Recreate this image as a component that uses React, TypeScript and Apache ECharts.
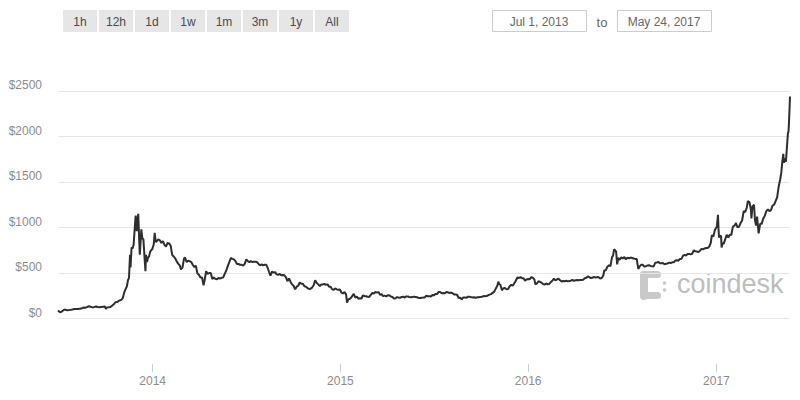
import React, { useEffect, useRef } from "react";
import * as echarts from "echarts";

const dates: string[] = [
  "2013-07-01","2013-07-05","2013-07-08","2013-07-12","2013-07-15","2013-07-19","2013-07-22","2013-07-26","2013-07-29",
  "2013-08-02","2013-08-05","2013-08-09","2013-08-12","2013-08-16","2013-08-19","2013-08-23","2013-08-26","2013-08-30",
  "2013-09-02","2013-09-06","2013-09-09","2013-09-13","2013-09-16","2013-09-20","2013-09-23","2013-09-27","2013-09-30",
  "2013-10-02","2013-10-04","2013-10-07","2013-10-11","2013-10-14","2013-10-18","2013-10-21","2013-10-25","2013-10-28",
  "2013-11-01","2013-11-04","2013-11-07","2013-11-10","2013-11-12","2013-11-14","2013-11-16","2013-11-18","2013-11-19",
  "2013-11-21","2013-11-23","2013-11-25","2013-11-27","2013-11-29","2013-12-01","2013-12-02","2013-12-04","2013-12-06",
  "2013-12-07","2013-12-08","2013-12-10","2013-12-12","2013-12-14","2013-12-16","2013-12-18","2013-12-19","2013-12-21",
  "2013-12-23","2013-12-25","2013-12-27","2013-12-29","2013-12-31",
  "2014-01-03","2014-01-05","2014-01-07","2014-01-09","2014-01-12","2014-01-15","2014-01-18","2014-01-21","2014-01-24",
  "2014-01-27","2014-01-30","2014-02-02","2014-02-05","2014-02-08","2014-02-11","2014-02-14","2014-02-17","2014-02-20",
  "2014-02-23","2014-02-25","2014-02-28","2014-03-03","2014-03-05","2014-03-08","2014-03-11","2014-03-14","2014-03-17",
  "2014-03-20","2014-03-23","2014-03-26","2014-03-29","2014-04-01","2014-04-04","2014-04-07","2014-04-10","2014-04-12",
  "2014-04-15","2014-04-18","2014-04-21","2014-04-24","2014-04-27","2014-04-30","2014-05-03","2014-05-06","2014-05-09",
  "2014-05-12","2014-05-15","2014-05-18","2014-05-21","2014-05-24","2014-05-27","2014-05-30","2014-06-02","2014-06-05",
  "2014-06-08","2014-06-11","2014-06-14","2014-06-17","2014-06-20","2014-06-23","2014-06-26","2014-06-29","2014-07-02",
  "2014-07-05","2014-07-08","2014-07-11","2014-07-14","2014-07-17","2014-07-20","2014-07-23","2014-07-26","2014-07-29",
  "2014-08-01","2014-08-04","2014-08-07","2014-08-10","2014-08-13","2014-08-16","2014-08-18","2014-08-21","2014-08-24",
  "2014-08-27","2014-08-30","2014-09-02","2014-09-05","2014-09-08","2014-09-11","2014-09-14","2014-09-17","2014-09-20",
  "2014-09-23","2014-09-26","2014-09-29","2014-10-02","2014-10-05","2014-10-08","2014-10-11","2014-10-14","2014-10-17",
  "2014-10-20","2014-10-23","2014-10-26","2014-10-29","2014-11-01","2014-11-04","2014-11-07","2014-11-10","2014-11-13",
  "2014-11-16","2014-11-19","2014-11-22","2014-11-25","2014-11-28","2014-12-01","2014-12-04","2014-12-07","2014-12-10",
  "2014-12-13","2014-12-16","2014-12-19","2014-12-22","2014-12-25","2014-12-28","2014-12-31",
  "2015-01-03","2015-01-06","2015-01-09","2015-01-12","2015-01-14","2015-01-16","2015-01-19","2015-01-22","2015-01-25",
  "2015-01-27","2015-01-30","2015-02-02","2015-02-05","2015-02-08","2015-02-11","2015-02-14","2015-02-17","2015-02-20",
  "2015-02-23","2015-02-26","2015-03-01","2015-03-04","2015-03-07","2015-03-10","2015-03-13","2015-03-16","2015-03-19",
  "2015-03-22","2015-03-25","2015-03-28","2015-03-31","2015-04-03","2015-04-06","2015-04-09","2015-04-12","2015-04-15",
  "2015-04-18","2015-04-21","2015-04-24","2015-04-27","2015-04-30","2015-05-03","2015-05-06","2015-05-09","2015-05-12",
  "2015-05-15","2015-05-18","2015-05-21","2015-05-24","2015-05-27","2015-05-30","2015-06-02","2015-06-05","2015-06-08",
  "2015-06-11","2015-06-14","2015-06-17","2015-06-20","2015-06-23","2015-06-26","2015-06-29","2015-07-02","2015-07-05",
  "2015-07-08","2015-07-11","2015-07-14","2015-07-17","2015-07-20","2015-07-23","2015-07-26","2015-07-29","2015-08-01",
  "2015-08-04","2015-08-07","2015-08-10","2015-08-13","2015-08-16","2015-08-19","2015-08-22","2015-08-25","2015-08-28",
  "2015-08-31","2015-09-03","2015-09-06","2015-09-09","2015-09-12","2015-09-15","2015-09-18","2015-09-21","2015-09-24",
  "2015-09-27","2015-09-30","2015-10-03","2015-10-06","2015-10-09","2015-10-12","2015-10-15","2015-10-18","2015-10-21",
  "2015-10-24","2015-10-27","2015-10-30","2015-11-02","2015-11-04","2015-11-06","2015-11-08","2015-11-11","2015-11-14",
  "2015-11-17","2015-11-20","2015-11-23","2015-11-26","2015-11-29","2015-12-02","2015-12-05","2015-12-08","2015-12-11",
  "2015-12-14","2015-12-17","2015-12-20","2015-12-23","2015-12-26","2015-12-29",
  "2016-01-01","2016-01-04","2016-01-07","2016-01-10","2016-01-13","2016-01-15","2016-01-18","2016-01-21","2016-01-24",
  "2016-01-27","2016-01-30","2016-02-02","2016-02-05","2016-02-08","2016-02-11","2016-02-14","2016-02-17","2016-02-20",
  "2016-02-23","2016-02-26","2016-02-29","2016-03-03","2016-03-06","2016-03-09","2016-03-12","2016-03-15","2016-03-18",
  "2016-03-21","2016-03-24","2016-03-27","2016-03-30","2016-04-02","2016-04-05","2016-04-08","2016-04-11","2016-04-14",
  "2016-04-17","2016-04-20","2016-04-23","2016-04-26","2016-04-29","2016-05-02","2016-05-05","2016-05-08","2016-05-11",
  "2016-05-14","2016-05-17","2016-05-20","2016-05-23","2016-05-26","2016-05-28","2016-05-31","2016-06-03","2016-06-06",
  "2016-06-09","2016-06-12","2016-06-14","2016-06-16","2016-06-18","2016-06-20","2016-06-22","2016-06-24","2016-06-27",
  "2016-06-30","2016-07-03","2016-07-06","2016-07-09","2016-07-12","2016-07-15","2016-07-18","2016-07-21","2016-07-24",
  "2016-07-27","2016-07-30","2016-08-02","2016-08-05","2016-08-08","2016-08-11","2016-08-14","2016-08-17","2016-08-20",
  "2016-08-23","2016-08-26","2016-08-29","2016-09-01","2016-09-04","2016-09-07","2016-09-10","2016-09-13","2016-09-16",
  "2016-09-19","2016-09-22","2016-09-25","2016-09-28","2016-10-01","2016-10-04","2016-10-07","2016-10-10","2016-10-13",
  "2016-10-16","2016-10-19","2016-10-22","2016-10-25","2016-10-28","2016-10-31","2016-11-03","2016-11-06","2016-11-09",
  "2016-11-12","2016-11-15","2016-11-18","2016-11-21","2016-11-24","2016-11-27","2016-11-30","2016-12-03","2016-12-06",
  "2016-12-09","2016-12-12","2016-12-15","2016-12-18","2016-12-21","2016-12-23","2016-12-26","2016-12-29",
  "2017-01-01","2017-01-02","2017-01-04","2017-01-05","2017-01-06","2017-01-08","2017-01-10","2017-01-11","2017-01-13",
  "2017-01-15","2017-01-18","2017-01-21","2017-01-24","2017-01-27","2017-01-30","2017-02-02","2017-02-05","2017-02-08",
  "2017-02-11","2017-02-14","2017-02-17","2017-02-20","2017-02-23","2017-02-26","2017-03-01","2017-03-03","2017-03-06",
  "2017-03-09","2017-03-10","2017-03-12","2017-03-15","2017-03-17","2017-03-19","2017-03-21","2017-03-24","2017-03-27",
  "2017-03-30","2017-04-02","2017-04-05","2017-04-08","2017-04-11","2017-04-14","2017-04-17","2017-04-20","2017-04-23",
  "2017-04-26","2017-04-29","2017-05-02","2017-05-05","2017-05-07","2017-05-09","2017-05-11","2017-05-12","2017-05-14",
  "2017-05-16","2017-05-18","2017-05-20","2017-05-21","2017-05-22","2017-05-23","2017-05-24",
];

const prices: number[] = [
  88,68,76,93,98,90,92,95,98,
  104,105,104,107,110,120,118,125,135,
  130,122,125,132,126,123,126,130,133,
  105,122,123,126,141,160,180,185,196,
  205,225,290,330,355,420,445,700,560,
  780,770,810,980,1130,960,1050,1150,840,
  700,790,980,880,870,690,520,700,620,
  670,680,730,750,760,
  810,940,840,850,870,860,830,850,810,
  790,830,825,800,700,680,660,625,600,
  580,540,560,660,670,620,635,630,620,
  590,565,580,495,480,450,450,365,420,
  520,490,500,500,435,450,435,430,445,
  440,447,450,490,525,575,620,665,655,
  650,630,600,600,590,590,580,600,650,
  630,620,630,620,625,625,618,600,585,
  595,585,590,590,550,500,470,515,505,
  510,485,480,490,475,478,475,455,410,
  440,405,375,360,320,350,360,395,382,
  382,355,350,335,325,328,340,365,420,
  390,375,355,375,375,380,370,375,350,
  350,320,315,330,320,315,318,
  285,275,290,265,175,210,215,230,255,
  270,230,240,218,222,220,255,245,245,
  238,237,260,280,275,292,285,290,260,
  268,246,252,244,255,255,244,236,220,
  223,235,231,228,236,240,230,243,242,
  237,233,235,240,237,233,226,225,229,
  230,232,250,245,244,243,257,255,270,
  268,292,290,278,280,277,290,288,280,
  285,278,265,265,258,226,228,210,232,
  230,227,240,238,235,230,233,227,234,
  233,236,239,246,244,246,255,262,268,
  282,295,328,360,405,375,372,310,333,
  335,322,324,355,370,360,388,415,450,
  445,455,442,442,415,430,
  433,432,455,448,430,375,385,410,402,
  393,378,372,385,375,380,400,415,438,
  418,430,437,420,406,412,410,415,408,
  412,415,425,413,420,422,420,422,424,
  426,442,447,462,455,444,447,457,450,
  455,453,440,444,472,527,531,570,585,
  575,675,690,760,750,735,595,665,646,
  672,660,675,650,670,660,670,665,660,
  655,655,545,575,590,590,570,575,582,
  585,578,575,572,612,614,623,608,608,
  610,597,602,605,614,610,617,617,637,
  640,635,655,655,688,700,690,710,710,
  705,712,750,738,736,730,745,765,760,
  770,775,775,790,830,915,900,975,
  1000,1020,1140,990,890,910,905,780,830,
  820,870,920,890,920,920,1010,1020,1050,
  1000,1010,1050,1080,1180,1170,1220,1290,1280,
  1200,1100,1230,1250,1080,1020,1120,935,1040,
  1040,1100,1130,1180,1200,1180,1190,1240,1250,
  1290,1330,1450,1530,1600,1720,1810,1710,1760,
  1720,1880,2040,2050,2150,2290,2440,
];

const yearLabels: string[] = ["2014", "2015", "2016", "2017"];
const rangeButtons: string[] = ["1h", "12h", "1d", "1w", "1m", "3m", "1y", "All"];
const fromDate = "Jul 1, 2013";
const toDate = "May 24, 2017";
const startDate = "2013-07-01";
const endDate = "2017-05-24";
const yMin = -500;
const yMax = 2500;
const yStep = 500;

const FONT = "Liberation Sans, Arial, sans-serif";

const toTs = (s: string) => {
  const [y, m, d] = s.split("-").map(Number);
  return Date.UTC(y, m - 1, d);
};

export default function App() {
  const ref = useRef<HTMLDivElement>(null);

  useEffect(() => {
    if (!ref.current) return;
    const chart = echarts.init(ref.current, null, { renderer: "svg" });

    const yearTicks = yearLabels.map((y) => Date.UTC(Number(y), 0, 1));

    const graphics: any[] = [];
    rangeButtons.forEach((label, i) => {
      const x = 63 + i * 36;
      graphics.push({
        type: "rect",
        shape: { x, y: 10, width: 34, height: 22 },
        style: { fill: "#e6e6e6" },
      });
      graphics.push({
        type: "text",
        x: x + 17,
        y: 21.5,
        style: {
          text: label,
          fill: "#4a4a4a",
          font: `12px ${FONT}`,
          align: "center",
          verticalAlign: "middle",
        },
      });
    });
    const boxes = [
      { x: 492, text: fromDate },
      { x: 617, text: toDate },
    ];
    boxes.forEach((b) => {
      graphics.push({
        type: "rect",
        shape: { x: b.x + 0.5, y: 10.5, width: 94, height: 21 },
        style: { fill: "#fff", stroke: "#cccccc", lineWidth: 1 },
      });
      graphics.push({
        type: "text",
        x: b.x + 47,
        y: 21.5,
        style: {
          text: b.text,
          fill: "#666",
          font: `12px ${FONT}`,
          align: "center",
          verticalAlign: "middle",
        },
      });
    });
    graphics.push({
      type: "text",
      x: 602,
      y: 22,
      style: {
        text: "to",
        fill: "#666",
        font: `13px ${FONT}`,
        align: "center",
        verticalAlign: "middle",
      },
    });

    // coindesk watermark
    const logoColor = "#c9c9c9";
    graphics.push({
      type: "group",
      z: 0,
      children: [
        { type: "rect", shape: { x: 640, y: 271, width: 21, height: 7, r: 3.5 }, style: { fill: logoColor } },
        { type: "rect", shape: { x: 640, y: 271, width: 8, height: 29, r: 4 }, style: { fill: logoColor } },
        { type: "rect", shape: { x: 640, y: 292, width: 21, height: 7, r: 3.5 }, style: { fill: logoColor } },
        { type: "circle", shape: { cx: 664.5, cy: 283, r: 1.8 }, style: { fill: logoColor } },
        { type: "circle", shape: { cx: 664.5, cy: 290, r: 1.8 }, style: { fill: logoColor } },
        {
          type: "text",
          x: 677,
          y: 284,
          style: {
            text: "coindesk",
            fill: "#bdbdbd",
            font: `27px ${FONT}`,
            align: "left",
            verticalAlign: "middle",
          },
        },
      ],
    });

    const splitColors: string[] = [];
    for (let v = yMin; v <= yMax; v += yStep) splitColors.push(v < 0 ? "rgba(0,0,0,0)" : "#e6e6e6");

    chart.setOption({
      animation: false,
      backgroundColor: "#ffffff",
      grid: { left: 58, right: 10, top: 91, bottom: 36 },
      xAxis: {
        type: "value",
        min: toTs(startDate),
        max: toTs(endDate),
        axisLine: { show: false, onZero: false },
        axisTick: {
          show: true,
          length: 8,
          lineStyle: { color: "#c0d0e0", width: 1 },
          customValues: yearTicks,
        },
        axisLabel: {
          show: true,
          color: "#8c8c8c",
          fontFamily: FONT,
          fontSize: 12,
          margin: 11,
          customValues: yearTicks,
          formatter: (v: number) => String(new Date(v).getUTCFullYear()),
        },
        splitLine: { show: false },
      },
      yAxis: {
        type: "value",
        min: yMin,
        max: yMax,
        interval: yStep,
        axisLine: { show: false },
        axisTick: { show: false },
        axisLabel: {
          color: "#8c8c8c",
          fontFamily: FONT,
          fontSize: 12,
          margin: 16,
          verticalAlign: "bottom",
          formatter: (v: number) => (v < 0 ? "" : "$" + v),
        },
        splitLine: { show: true, lineStyle: { color: splitColors, width: 1 } },
      },
      graphic: graphics,
      series: [
        {
          type: "line",
          data: dates.map((d, i) => [toTs(d), prices[i]]),
          showSymbol: false,
          symbol: "none",
          z: 5,
          lineStyle: { color: "#2e2e2e", width: 2 },
        },
      ],
    });

    return () => chart.dispose();
  }, []);

  return (
    <div
      ref={ref}
      style={{ position: "fixed", left: 0, top: 0, width: 800, height: 400, background: "#fff" }}
    />
  );
}
